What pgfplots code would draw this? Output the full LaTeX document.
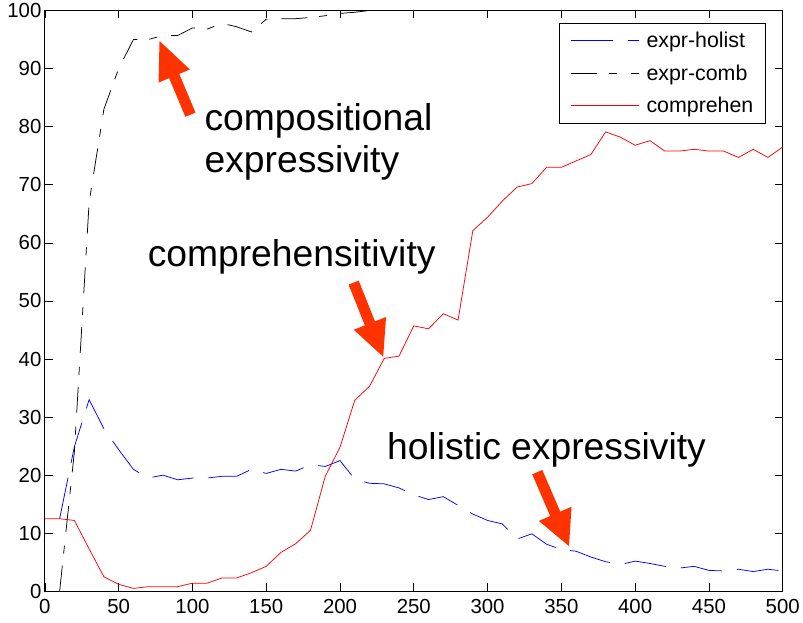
\documentclass[border=0pt]{standalone}
\usepackage{fontspec}
\setmainfont{Liberation Sans}
\usepackage{pgfplots}
\pgfplotsset{compat=1.18}
\definecolor{arrowred}{RGB}{255,51,0}
\definecolor{mblue}{RGB}{0,0,255}
\definecolor{mred}{RGB}{255,0,0}

\begin{document}
\begin{tikzpicture}
\begin{axis}[
  width=740bp, height=582.5bp, scale only axis,
  xmin=0, xmax=500, ymin=0, ymax=100,
  xtick={0,50,...,500}, ytick={0,10,...,100},
  tick align=inside, major tick length=8bp,
  tick style={black, line width=0.6bp},
  axis line style={line width=1bp},
  /pgf/number format/assume math mode=true,
  ticklabel style={font=\fontsize{20.5}{24}\selectfont},
  xticklabel style={yshift=-4bp},
  legend style={at={(1,1)}, anchor=north east, xshift=-17bp, yshift=-12.5bp,
    font=\fontsize{21.5}{25}\selectfont, draw=black, line width=0.8bp,
    nodes={inner sep=0bp},
    cells={anchor=west}, inner xsep=12bp, inner ysep=9bp, row sep=15.5bp, column sep=7bp},
  legend image code/.code={\draw[#1] (0bp,0bp) -- (68bp,0bp);},
]
\addplot[mblue, line width=0.75bp, dash pattern=on 42bp off 15bp] coordinates {
(10,12.5) (20,24.9) (30,33.0) (40,28.0) (50,24.4) (60,21.0) (70,19.5) (80,20.0)
(90,19.2) (100,19.5) (110,19.5) (120,19.8) (130,19.8) (140,21.0) (150,20.3)
(160,21.0) (170,20.7) (180,21.8) (190,21.5) (200,22.5) (210,19.3) (220,18.6)
(230,18.5) (240,17.8) (250,16.6) (260,15.8) (270,16.3) (280,14.8) (290,13.3)
(300,12.2) (310,11.6) (320,9.0) (330,9.9) (340,8.1) (350,7.2) (360,6.9)
(370,5.9) (380,5.1) (390,4.6) (400,5.2) (410,4.8) (420,4.3) (430,4.0)
(440,4.3) (450,3.6) (460,3.5) (470,3.8) (480,3.4) (490,3.8) (500,3.5)
};
\addlegendentry{expr-holist}
\addplot[black, line width=0.75bp, dash pattern=on 26bp off 12bp on 8bp off 14bp] coordinates {
(10,0) (20,24) (30,67) (40,83) (50,90) (60,95) (70,95) (80,95.7) (90,95.7)
(100,97.0) (110,96.8) (120,97.8) (130,97.2) (140,96.3) (150,98.5) (160,98.6)
(170,98.6) (180,98.8) (190,99.1) (200,99.5) (210,99.7) (220,100) (230,100)
(240,100) (250,100) (260,100) (270,100) (280,100) (290,100) (300,100)
(310,100) (320,100) (330,100) (340,100) (350,100) (360,100) (370,100)
(380,100) (390,100) (400,100) (410,100) (420,100) (430,100) (440,100)
(450,100) (460,100) (470,100) (480,100) (490,100) (500,100)
};
\addlegendentry{expr-comb}
\addplot[mred, line width=0.75bp] coordinates {
(0,12.5) (10,12.5) (20,12.2) (30,7.3) (40,2.5) (50,1.2) (60,0.5) (70,0.8)
(80,0.8) (90,0.8) (100,1.4) (110,1.4) (120,2.3) (130,2.3) (140,3.2) (150,4.3)
(160,6.7) (170,8.2) (180,10.5) (190,19.8) (200,24.8) (210,32.9) (220,35.3)
(230,40.1) (240,40.5) (250,45.7) (260,45.2) (270,47.8) (280,46.7) (290,62.1)
(300,64.4) (310,67.2) (320,69.6) (330,70.2) (340,73.0) (350,73.0) (360,74.1)
(370,75.2) (380,79.1) (390,78.2) (400,76.8) (410,77.6) (420,75.8) (430,75.8)
(440,76.1) (450,75.8) (460,75.8) (470,74.7) (480,76.1) (490,74.7) (500,76.5)
};
\addlegendentry{comprehen}

% annotation arrows
\fill[arrowred] (77.70,94.76) -- (77.03,87.59) -- (84.19,88.36) -- (95.20,81.70)
  -- (102.09,82.42) -- (91.08,89.08) -- (98.24,89.85) -- cycle;
\fill[arrowred] (229.26,40.39) -- (209.32,45.03) -- (216.82,45.79) -- (205.81,52.81)
  -- (212.70,53.49) -- (223.72,46.47) -- (231.22,47.23) -- cycle;
\fill[arrowred] (355.20,7.78) -- (334.73,12.12) -- (342.43,12.96) -- (330.27,20.14)
  -- (337.09,20.89) -- (349.26,13.72) -- (356.89,14.56) -- cycle;

% annotation texts
\node[anchor=base west, inner sep=0pt, font=\fontsize{37.5}{44}\selectfont] at (108.1,79.31) {compositional};
\node[anchor=base west, inner sep=0pt, font=\fontsize{37.5}{44}\selectfont] at (108.1,72.10) {expressivity};
\node[anchor=base west, inner sep=0pt, font=\fontsize{37.5}{44}\selectfont] at (69.59,55.97) {comprehensitivity};
\node[anchor=base west, inner sep=0pt, font=\fontsize{37.5}{44}\selectfont] at (231.76,22.66) {holistic expressivity};
\end{axis}
\path ([shift={(-45bp,-31bp)}]current axis.south west) rectangle ([shift={(18bp,9.5bp)}]current axis.north east);
\end{tikzpicture}
\end{document}
